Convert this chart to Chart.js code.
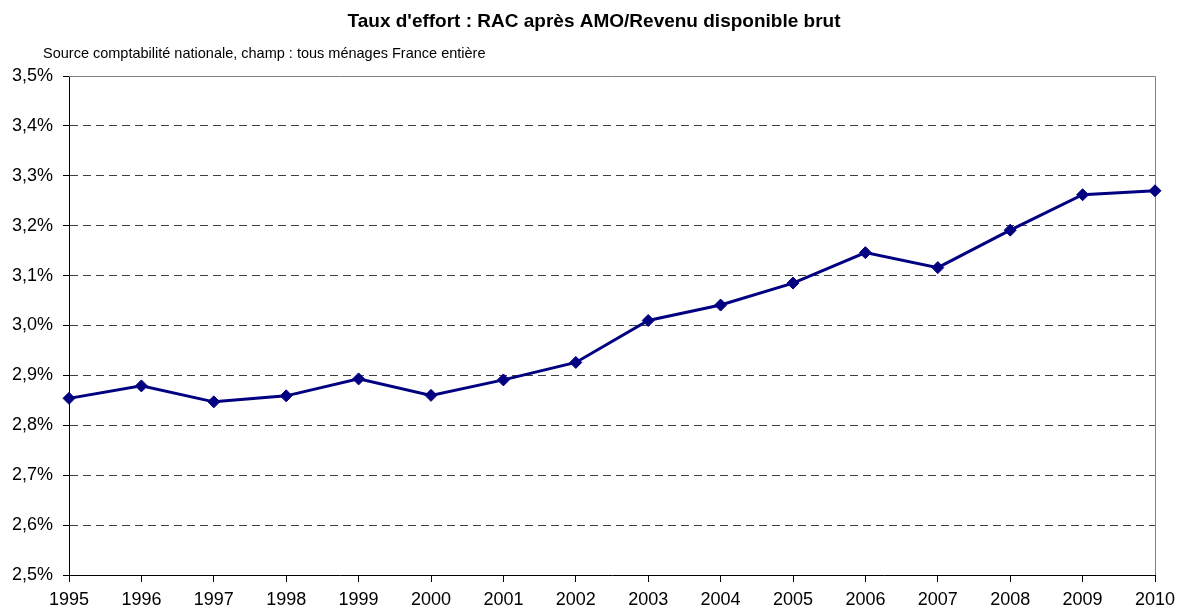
<!DOCTYPE html>
<html lang="fr">
<head>
  <meta charset="UTF-8" />
  <title>Taux d'effort</title>
  <script src="https://cdn.jsdelivr.net/npm/chart.js"></script>
  <style>
    body { margin: 0; background: #fff; }
    #wrap { width: 1177px; height: 610px; position: relative; }
  </style>
</head>
<body>
<div id="wrap"><canvas id="chart"></canvas></div>
<script>
const years = ['1995','1996','1997','1998','1999','2000','2001','2002','2003','2004','2005','2006','2007','2008','2009','2010'];
const rates = [2.854, 2.879, 2.847, 2.859, 2.893, 2.860, 2.891, 2.926, 3.010, 3.041, 3.085, 3.146, 3.116, 3.191, 3.262, 3.270];
const titleText = "Taux d'effort : RAC après AMO/Revenu disponible brut";
const sourceText = 'Source comptabilité nationale, champ : tous ménages France entière';

const FONT = "'Liberation Sans', Arial, sans-serif";

// title, source line and the grey top/right frame
const frame = {
  id: 'frame',
  beforeDatasetsDraw(chart) {
    const { ctx, chartArea: a } = chart;
    ctx.save();
    ctx.strokeStyle = '#808080';
    ctx.lineWidth = 1;
    ctx.beginPath();
    ctx.moveTo(a.left, Math.round(a.top) + 0.5);
    ctx.lineTo(Math.round(a.right) + 0.5, Math.round(a.top) + 0.5);
    ctx.lineTo(Math.round(a.right) + 0.5, a.bottom);
    ctx.stroke();
    ctx.restore();
  },
  afterDraw(chart) {
    const ctx = chart.ctx;
    ctx.save();
    ctx.fillStyle = '#000';
    ctx.textBaseline = 'alphabetic';
    ctx.font = 'bold 19px ' + FONT;
    ctx.textAlign = 'center';
    ctx.fillText(titleText, 594, 27);
    ctx.font = '14.5px ' + FONT;
    ctx.textAlign = 'left';
    ctx.fillText(sourceText, 43, 58);
    ctx.restore();
  }
};

new Chart(document.getElementById('chart'), {
  type: 'line',
  data: {
    labels: years,
    datasets: [{
      data: rates,
      borderColor: '#000080',
      backgroundColor: '#000080',
      borderWidth: 3,
      tension: 0,
      pointStyle: 'rectRot',
      pointRadius: 6,
      pointBorderWidth: 1,
      clip: false
    }]
  },
  options: {
    responsive: true,
    maintainAspectRatio: false,
    animation: false,
    layout: { padding: { top: 76, right: 22, bottom: 0, left: 0 } },
    plugins: { legend: { display: false }, tooltip: { enabled: false } },
    scales: {
      x: {
        offset: false,
        afterFit: s => { s.height = 35; s.paddingLeft = 0; s.paddingRight = 0; },
        grid: { drawOnChartArea: false, tickLength: 7, tickColor: '#000' },
        border: { color: '#000', width: 1 },
        ticks: { color: '#000', font: { family: FONT, size: 18 }, padding: 7, maxRotation: 0, autoSkip: false }
      },
      y: {
        min: 2.5,
        max: 3.5,
        afterFit: s => { s.width = 69; s.paddingTop = 0; s.paddingBottom = 0; },
        grid: {
          color: c => (c.tick && (c.tick.value > 3.49 || c.tick.value < 2.51)) ? 'rgba(0,0,0,0)' : '#404040',
          tickColor: '#000',
          tickLength: 6
        },
        border: { color: '#000', width: 1, dash: [8, 5] },
        ticks: {
          stepSize: 0.1,
          color: '#000',
          padding: 10,
          font: { family: FONT, size: 18 },
          callback: v => v.toFixed(1).replace('.', ',') + '%'
        }
      }
    }
  },
  plugins: [frame]
});
</script>
</body>
</html>
